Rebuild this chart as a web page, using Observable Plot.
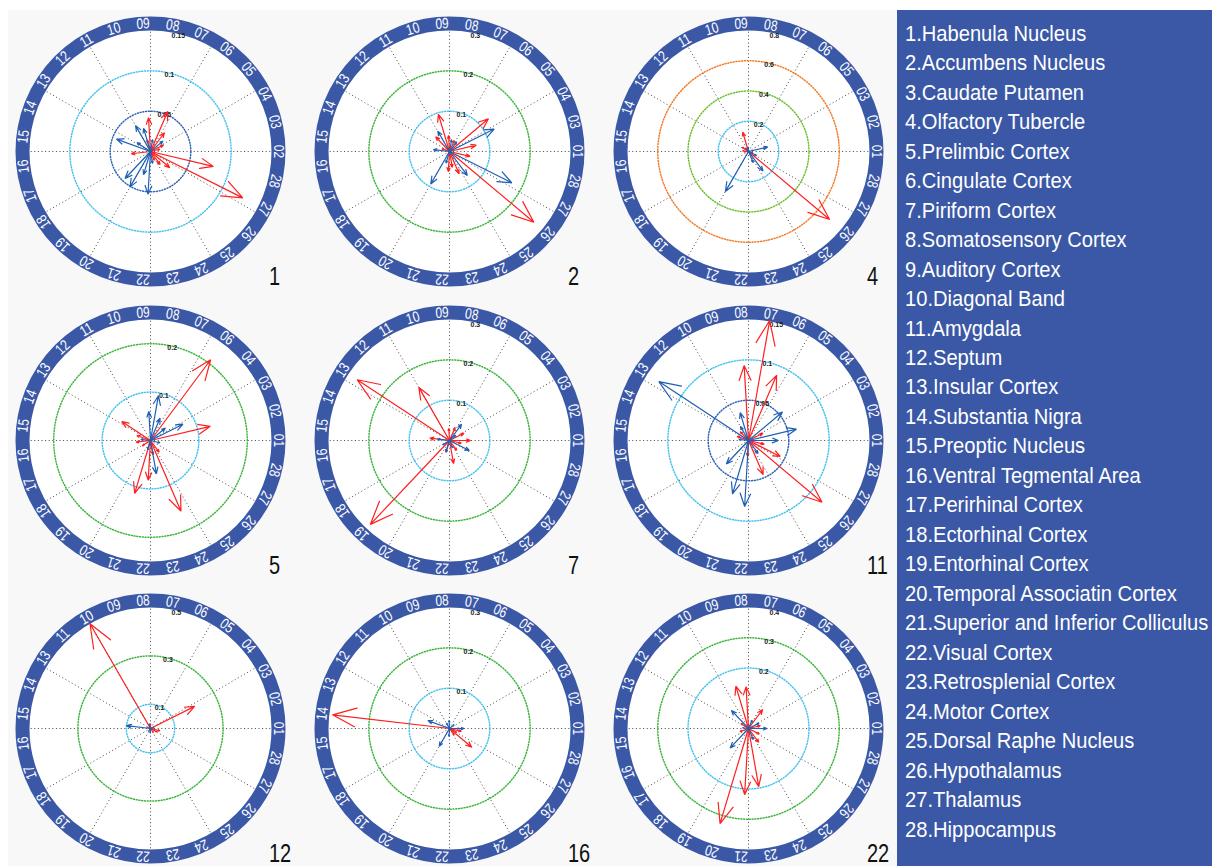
<!DOCTYPE html>
<html><head><meta charset="utf-8">
<script src="https://cdn.jsdelivr.net/npm/d3@7"></script>
<script src="https://cdn.jsdelivr.net/npm/@observablehq/plot@0.6"></script>
<style>
html,body{margin:0;padding:0;background:#fff;}
#root{position:relative;width:1215px;height:866px;overflow:hidden;background:#fff;font-family:"Liberation Sans",Arial,sans-serif;}
#area{position:absolute;left:8px;top:10px;width:889px;height:856px;background:#f8f8f8;}
.panel{position:absolute;}
.num{position:absolute;font-size:25px;color:#111;line-height:25px;transform:scaleX(0.8);transform-origin:left center;}
#legend{position:absolute;left:897px;top:10px;width:315px;height:856px;background:#3a58a6;}
#legend div{position:absolute;left:8px;color:#fff;font-size:22px;white-space:nowrap;line-height:22px;transform:scaleX(0.915);transform-origin:left center;}
</style></head><body><div id="root"><div id="area"></div><div id="legend"></div></div>
<script>
// ---- data ----
const regionNames = ["Habenula Nucleus","Accumbens Nucleus","Caudate Putamen","Olfactory Tubercle","Prelimbic Cortex","Cingulate Cortex","Piriform Cortex","Somatosensory Cortex","Auditory Cortex","Diagonal Band","Amygdala","Septum","Insular Cortex","Substantia Nigra","Preoptic Nucleus","Ventral Tegmental Area","Perirhinal Cortex","Ectorhinal Cortex","Entorhinal Cortex","Temporal Associatin Cortex","Superior and Inferior Colliculus","Visual Cortex","Retrosplenial Cortex","Motor Cortex","Dorsal Raphe Nucleus","Hypothalamus","Thalamus","Hippocampus"];
const panelIds = [1,2,4,5,7,11,12,16,22];
const panelMax = [0.15,0.3,0.8,0.25,0.3,0.15,0.5,0.3,0.4];
const panelLevels = [[0.05,0.1],[0.1,0.2],[0.2,0.4,0.6],[0.1,0.2],[0.1,0.2],[0.05,0.1],[0.1,0.3],[0.1,0.2],[0.2,0.3]];
const panelLevelColors = [["#2f63b6","#45c3ef"],["#45c3ef","#3db53d"],["#45c3ef","#6cc02a","#f47a28"],["#45c3ef","#3db53d"],["#45c3ef","#3db53d"],["#2f63b6","#45c3ef"],["#45c3ef","#3db53d"],["#45c3ef","#3db53d"],["#45c3ef","#3db53d"]];
const panelTicks = [[0.05,0.1,0.15],[0.1,0.2,0.3],[0.2,0.4,0.6,0.8],[0.1,0.2],[0.1,0.2,0.3],[0.05,0.1,0.15],[0.1,0.3,0.5],[0.1,0.2,0.3],[0.2,0.3,0.4]];
// arrows: [target region, value]
const red1 = [[27,0.128],[28,0.080],[7,0.054],[9,0.042],[6,0.029],[26,0.031],[16,0.024],[25,0.02],[4,0.018],[10,0.015],[3,0.012],[24,0.012]];
const blue1 = [[14,0.045],[11,0.037],[19,0.046],[20,0.051],[22,0.053],[10,0.03],[5,0.02],[21,0.03],[13,0.02],[23,0.015],[8,0.015]];
const red2 = [[26,0.273],[5,0.126],[10,0.096],[3,0.068],[28,0.052],[24,0.06],[22,0.05],[12,0.05],[9,0.04],[23,0.04],[7,0.03],[14,0.02]];
const blue2 = [[27,0.173],[4,0.124],[20,0.093],[25,0.074],[11,0.058],[15,0.04],[8,0.03],[21,0.03],[6,0.03]];
const red4 = [[26,0.70],[10,0.133],[15,0.04],[13,0.05],[16,0.03],[28,0.03]];
const blue4 = [[20,0.306],[2,0.13],[25,0.16],[24,0.08],[27,0.06],[12,0.03],[9,0.03]];
const red5 = [[6,0.208],[2,0.127],[24,0.159],[21,0.114],[13,0.071],[22,0.082],[14,0.03],[16,0.03],[18,0.02],[25,0.03],[23,0.03]];
const blue5 = [[8,0.094],[3,0.075],[23,0.07],[7,0.05],[15,0.02],[9,0.06],[4,0.04],[28,0.02],[21,0.02]];
const red7 = [[13,0.274],[19,0.286],[11,0.152],[1,0.052],[23,0.058],[15,0.049],[3,0.04],[6,0.035],[25,0.03],[28,0.03],[9,0.03],[21,0.03]];
const blue7 = [[27,0.055],[5,0.05],[21,0.03],[15,0.03],[4,0.02],[18,0.02],[24,0.02]];
const red11 = [[7,0.151],[8,0.093],[6,0.088],[26,0.119],[24,0.046],[27,0.044],[12,0.015],[14,0.015],[3,0.02],[28,0.02],[22,0.02]];
const blue11 = [[13,0.133],[22,0.082],[21,0.069],[2,0.061],[4,0.055],[1,0.037],[9,0.036],[19,0.04],[15,0.012],[10,0.02],[25,0.02]];
const red12 = [[10,0.5],[3,0.204],[28,0.04],[27,0.03],[25,0.02],[8,0.02],[14,0.015]];
const blue12 = [[15,0.1],[9,0.02],[22,0.02],[20,0.015],[2,0.015]];
const red16 = [[14,0.292],[26,0.072],[28,0.03],[1,0.025],[25,0.02],[27,0.02]];
const blue16 = [[13,0.057],[20,0.051],[1,0.036],[8,0.02],[22,0.02],[10,0.015],[4,0.015]];
const red22 = [[20,0.328],[21,0.219],[23,0.195],[9,0.146],[8,0.138],[5,0.078],[25,0.057],[27,0.04],[12,0.03],[2,0.04],[16,0.03]];
const blue22 = [[11,0.082],[18,0.088],[1,0.061],[3,0.039],[24,0.04],[6,0.03],[14,0.02]];
const panelRed = [red1,red2,red4,red5,red7,red11,red12,red16,red22];
const panelBlue = [blue1,blue2,blue4,blue5,blue7,blue11,blue12,blue16,blue22];

// ---- layout ----
const colX = [150, 449, 748], rowY = [151, 440, 728];
const SIZE = 280, HALF = 140, RPX = 121; // pixel radius of rmax
const FONT = '"Liberation Sans",Arial,sans-serif';
const RED = "#ff1f1f", BLUE = "#1e5fb3", RING = "#3a58a6";

const root = document.getElementById("root");

panelIds.forEach((pid, i) => {
  const cx = colX[i % 3], cy = rowY[Math.floor(i / 3)];
  const rmax = panelMax[i];
  const D = rmax * HALF / RPX;
  const labels = d3.range(1, 29).filter(k => k !== pid);
  const step = 2 * Math.PI / labels.length;
  const ang = t => labels.indexOf(t) * step;

  const labelRows = labels.map((k, j) => ({k, a: j * step}));
  const spokes = d3.range(0, 360, 30).map(d => d * Math.PI / 180);
  const circRows = [];
  panelLevels[i].forEach((lv, li) => {
    d3.range(0, 362, 2).forEach(d => circRows.push({lv, li, x: lv * Math.cos(d * Math.PI / 180), y: lv * Math.sin(d * Math.PI / 180)}));
  });
  const arrowRows = (arr, tag) => {
    const rows = [];
    arr.forEach(([t, v], n) => {
      const a = ang(t), c = Math.cos(a), s = Math.sin(a);
      // MATLAB compass arrow shape: 0 -> 1 -> (.8,.08) -> 1 -> (.8,-.08)
      [[0,0],[1,0],[0.8,0.08],[1,0],[0.8,-0.08]].forEach(([u, w]) => {
        rows.push({id: tag + n, x: v * (u * c - w * s), y: v * (u * s + w * c)});
      });
    });
    return rows;
  };
  const lr = rmax * 128 / RPX;
  const tickA = 80 * Math.PI / 180;

  const svg = Plot.plot({
    width: SIZE, height: SIZE, margin: 0,
    style: {background: "transparent", fontFamily: FONT, overflow: "visible"},
    x: {domain: [-D, D], axis: null},
    y: {domain: [-D, D], axis: null},
    marks: [
      Plot.dot([0], {x: 0, y: 0, r: 128, fill: "#ffffff", stroke: RING, strokeWidth: 14}),
      Plot.link(spokes, {x1: 0, y1: 0, x2: a => rmax * Math.cos(a), y2: a => rmax * Math.sin(a), stroke: "#333", strokeWidth: 0.9, strokeDasharray: "1,2.6"}),
      Plot.line(circRows, {x: "x", y: "y", z: "lv", stroke: d => panelLevelColors[i][d.li], strokeWidth: 1.5, strokeDasharray: "1,1.8"}),
      Plot.text(panelTicks[i], {x: v => v * Math.cos(tickA), y: v => v * Math.sin(tickA), text: v => String(v), textAnchor: "start", fontSize: 7, fontWeight: "bold", fill: "#222", dy: 3}),
      Plot.line(arrowRows(panelRed[i], "r"), {x: "x", y: "y", z: "id", stroke: RED, strokeWidth: 1.2, strokeLinejoin: "miter"}),
      Plot.line(arrowRows(panelBlue[i], "b"), {x: "x", y: "y", z: "id", stroke: BLUE, strokeWidth: 1.2, strokeLinejoin: "miter"}),
      Plot.text(labelRows, {x: d => lr * Math.cos(d.a), y: d => lr * Math.sin(d.a), text: d => String(d.k).padStart(2, "0"), rotate: d => 90 - d.a * 180 / Math.PI, fill: "#ffffff", fontSize: 15, className: "ringlab"})
    ]
  });
  // condense the ring labels horizontally (narrow look of the original)
  d3.select(svg).selectAll(".ringlab text").attr("transform", function() {
    return (this.getAttribute("transform") || "") + " scale(0.8,1)";
  });
  const wrap = document.createElement("div");
  wrap.className = "panel";
  wrap.style.left = (cx - HALF) + "px";
  wrap.style.top = (cy - HALF) + "px";
  wrap.appendChild(svg);
  root.appendChild(wrap);

  const num = document.createElement("div");
  num.className = "num";
  num.textContent = String(pid);
  num.style.left = (cx + 119) + "px";
  num.style.top = (cy + 125 - 12) + "px";
  root.appendChild(num);
});

const legend = document.getElementById("legend");
regionNames.forEach((name, j) => {
  const d = document.createElement("div");
  d.textContent = (j + 1) + "." + name;
  d.style.top = (42.3 + j * 29.48 - 18.6 - 11) + "px";
  legend.appendChild(d);
});
</script></body></html>
